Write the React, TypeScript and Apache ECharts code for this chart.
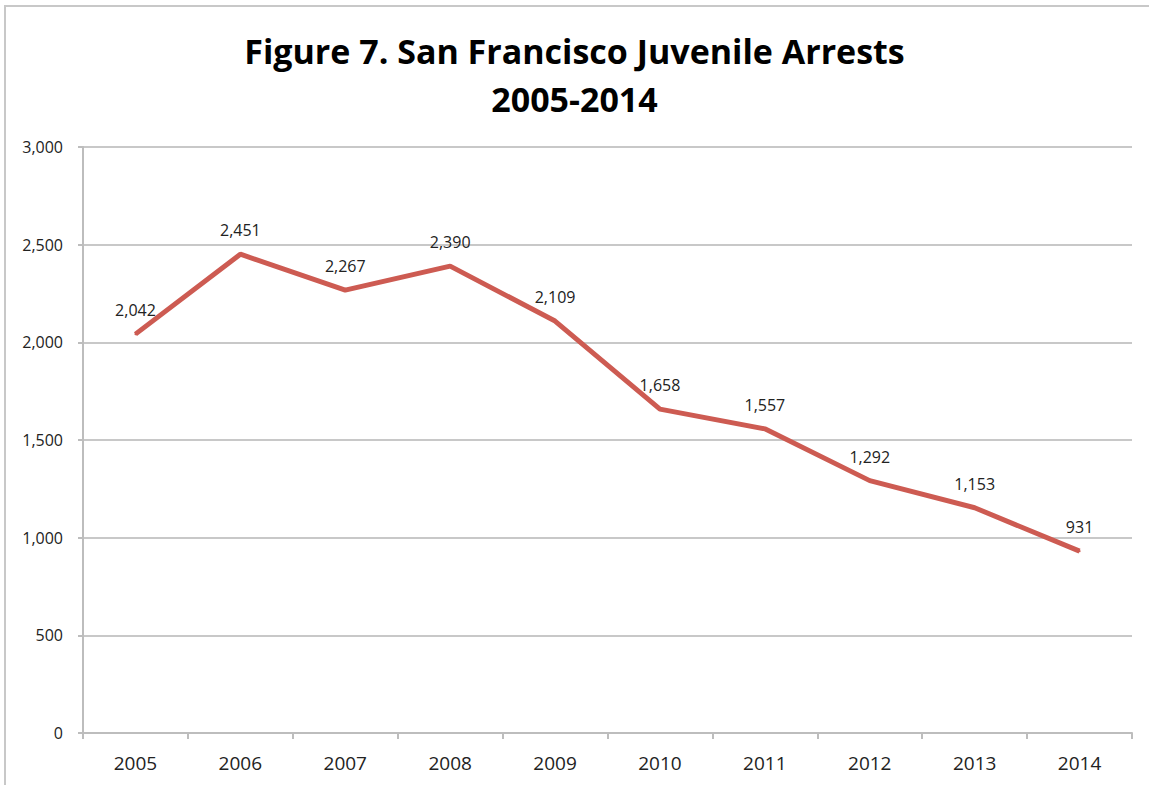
import React, { useEffect, useRef } from "react";
import * as echarts from "echarts";

const years = ["2005", "2006", "2007", "2008", "2009", "2010", "2011", "2012", "2013", "2014"];
const arrests = [2042, 2451, 2267, 2390, 2109, 1658, 1557, 1292, 1153, 931];
const titleLines = ["Figure 7. San Francisco Juvenile Arrests", "2005-2014"];

const fmt = (v: number) => v.toLocaleString("en-US");

export default function App() {
  const ref = useRef<HTMLDivElement>(null);
  useEffect(() => {
    document.body.style.margin = "0";
    const chart = echarts.init(ref.current!, null, { renderer: "svg" });
    chart.setOption({
      animation: false,
      backgroundColor: "#fff",
      title: {
        text: titleLines.join("\n"),
        left: "center",
        top: 22,
        textStyle: {
          fontFamily: "Open Sans",
          fontWeight: "bold",
          fontSize: 34,
          lineHeight: 48,
          color: "#000",
        },
      },
      graphic: [
        {
          type: "rect",
          shape: { x: 5, y: 6, width: 1160, height: 800 },
          style: { fill: "none", stroke: "#c8c8c8", lineWidth: 2 },
          silent: true,
        },
      ],
      grid: { left: 83, right: 17, top: 147, bottom: 52, containLabel: false, outerBoundsMode: "none" },
      xAxis: {
        type: "category",
        data: years,
        boundaryGap: true,
        axisLine: { show: true, lineStyle: { color: "#bdbdbd", width: 2 } },
        axisTick: { show: true, alignWithLabel: false, length: 6, lineStyle: { color: "#bdbdbd", width: 2 } },
        axisLabel: { fontFamily: "Open Sans", fontSize: 19, color: "#222", margin: 20 },
        splitLine: { show: false },
      },
      yAxis: {
        type: "value",
        min: 0,
        max: 3000,
        interval: 500,
        axisLine: { show: true, lineStyle: { color: "#bdbdbd", width: 2 } },
        axisTick: { show: true, length: 5, lineStyle: { color: "#bdbdbd", width: 2 } },
        axisLabel: { fontFamily: "Open Sans", fontSize: 16, color: "#222", margin: 20, formatter: (v: number) => fmt(v) },
        splitLine: { show: true, lineStyle: { color: "#c8c8c8", width: 2 } },
      },
      series: [
        {
          type: "line",
          data: arrests,
          symbol: "circle",
          symbolSize: 2,
          showSymbol: true,
          showAllSymbol: true,
          lineStyle: { color: "#cd5b52", width: 5 },
          itemStyle: { color: "#cd5b52" },
          label: {
            show: true,
            position: "top",
            distance: 15,
            fontFamily: "Open Sans",
            fontSize: 16,
            color: "#222",
            opacity: 1,
            formatter: (p: any) => fmt(p.value),
          },
        },
      ],
    });
    return () => chart.dispose();
  }, []);
  return <div ref={ref} style={{ width: 1149, height: 785 }} />;
}
